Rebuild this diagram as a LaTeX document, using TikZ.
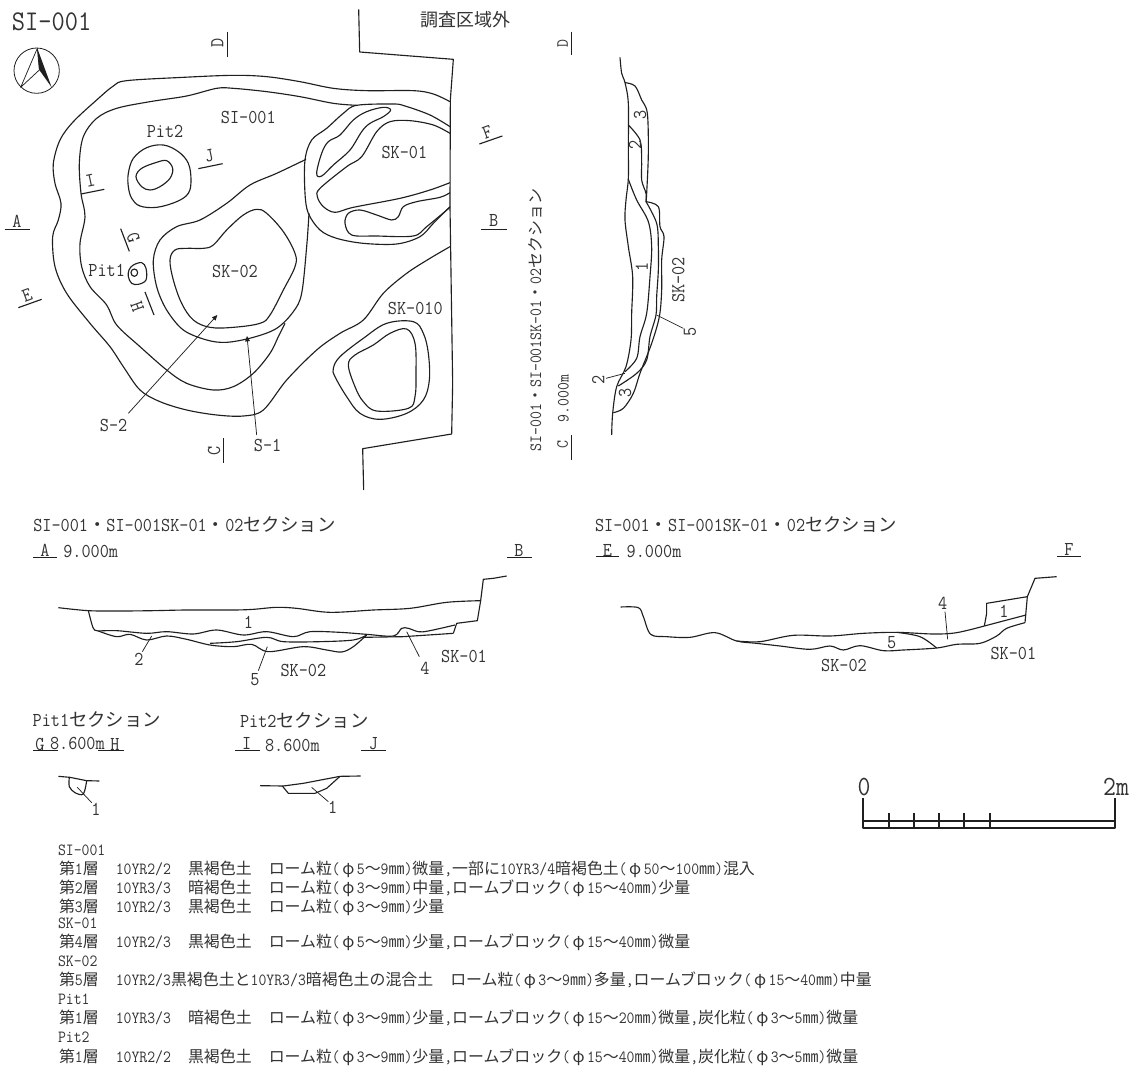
\documentclass[tikz,border=0pt]{standalone}
\usepackage{fontspec}
\setmonofont{Latin Modern Mono}[Scale=1.07,FakeStretch=0.9]
\newfontfamily\cjk{Noto Sans CJK JP}
\newcommand{\J}[1]{{\cjk #1}}
\newcommand{\PH}{\makebox[1em][c]{\cjk φ}}
\newcommand{\FW}{\hspace*{1em}}
\newcommand{\txtsize}[1]{\fontsize{#1}{#1}\selectfont}
\usetikzlibrary{arrows.meta}
\definecolor{ink}{gray}{0.12}
\definecolor{txt}{gray}{0.2}
\tikzset{
 px/.style={x=0.75pt,y=-0.75pt},
 zm/.style={x=0.25pt,y=-0.25pt},
 ln/.style={draw=ink,line width=0.85pt,line join=round},
 thin line/.style={draw=ink,line width=0.55pt,line join=round},
 lbl/.style={inner sep=0pt,outer sep=0pt,text=txt,font=\ttfamily\txtsize{13.8}},
 lbls/.style={inner sep=0pt,outer sep=0pt,text=txt,font=\ttfamily\txtsize{12}},
 lblb/.style={inner sep=0pt,outer sep=0pt,text=txt,font=\ttfamily\txtsize{19.5}},
 lg/.style={inner sep=0pt,outer sep=0pt,anchor=west,text=txt,font=\ttfamily\txtsize{11.94}},
 leadtip/.style={-{Triangle[length=4pt,width=3.5pt]},thin line},
}
\newcommand{\crv}[2][]{\draw[ln,#1] plot[smooth,tension=0.55] coordinates {#2};}
\newcommand{\crvc}[2][]{\draw[ln,#1] plot[smooth cycle,tension=0.6] coordinates {#2};}
\begin{document}
\begin{tikzpicture}[px]
\useasboundingbox (0,0) rectangle (1132,1066);
\fill[white] (0,0) rectangle (1132,1066);

% ---- plan ----
\node[lbl,font=\ttfamily\txtsize{20},anchor=west] (title) at (12,22) {SI-001};
\node[lbl,font=\cjk\txtsize{13.5}] (outside) at (465,20) {調査区域外};

\begin{scope}[zm]
 % north arrow
 \node[circle,draw=ink,line width=0.6pt,minimum size=34pt,inner sep=0pt] (north) at (110,212) {};
 \draw[thin line] (112,145) -- (62,262) -- (118,210) -- cycle;
 \fill[ink] (112,145) -- (155,262) -- (118,210) -- cycle;
 % survey limit
 \draw[ln] (1076,28) -- (1079,156) -- (1360,178) -- (1351,300) -- (1350,620) -- (1358,1150) -- (1355,1302) -- (1088,1346) -- (1091,1470);
 % SI-001 outer
 \crv{(1350,305)(1300,282)(1240,272)(1100,272)(1000,265)(900,245)(800,230)(700,226)(550,232)(380,242)(340,258)(290,300)(220,365)(180,420)(160,490)(165,550)(183,610)(175,660)(158,710)(165,800)(200,880)(270,970)(330,1040)(370,1100)(420,1170)(480,1205)(560,1230)(650,1245)(730,1248)(790,1230)(860,1140)(950,1050)(1020,1000)(1090,960)(1150,880)(1220,820)(1290,775)(1350,740)}
 % SI-001 floor
 \crv{(1070,316)(1000,310)(900,290)(800,275)(700,265)(650,265)(560,288)(450,305)(350,325)(290,355)(250,410)(238,490)(243,580)(255,650)(240,730)(245,800)(270,860)(320,915)(350,975)(420,1040)(500,1110)(560,1150)(640,1170)(700,1160)(760,1120)(810,1060)(835,1010)(855,970)}
 % SK-01
 \crv{(1350,380)(1290,345)(1215,318)(1180,312)(1070,316)(1030,340)(980,385)(935,420)(915,480)(915,580)(925,640)(960,690)(1010,715)(1090,730)(1190,732)(1260,710)(1300,670)(1350,620)}
 \crvc{(950,520)(965,460)(985,425)(1020,405)(1060,360)(1100,335)(1150,322)(1172,330)(1150,350)(1110,370)(1085,395)(1050,450)(1000,495)(965,528)}
 \crv{(1350,400)(1300,375)(1230,362)(1170,365)(1130,395)(1085,470)(1040,500)(960,565)(952,590)(970,620)(1005,637)(1060,622)(1200,595)(1290,570)(1350,548)}
 \crv{(1350,578)(1320,592)(1250,605)(1210,620)(1195,650)(1175,660)(1130,645)(1080,630)(1045,640)(1035,670)(1055,705)(1130,708)(1240,708)(1280,680)(1350,622)}
 % SK-02
 \crv{(918,478)(830,520)(750,555)(680,610)(600,660)(530,680)(480,720)(460,780)(470,860)(500,930)(550,990)(620,1020)(680,1027)(760,1012)(830,985)(880,935)(905,880)(920,740)(927,640)}
 \crvc{(510,780)(525,750)(560,745)(610,745)(640,735)(680,690)(730,645)(770,628)(800,640)(850,695)(885,760)(885,800)(850,870)(810,945)(780,970)(700,982)(630,982)(580,960)(545,910)(520,840)}
 % Pit2
 \crvc{(385,520)(400,475)(440,443)(490,435)(535,455)(565,490)(573,540)(565,580)(530,605)(470,622)(420,618)(395,595)(385,560)}
 \crvc{(408,530)(425,505)(470,487)(500,482)(518,505)(510,535)(480,560)(450,570)(425,560)}
 % Pit1
 \crvc{(387,810)(400,795)(425,788)(438,805)(438,840)(415,853)(395,850)(385,830)}
 \draw[ln] (403,818) ellipse [x radius=10,y radius=11];
 % SK-010
 \crvc{(1000,1105)(1020,1070)(1090,1015)(1160,970)(1240,965)(1270,1000)(1285,1060)(1288,1140)(1270,1200)(1220,1240)(1140,1258)(1080,1240)(1040,1190)(1005,1130)}
 \crvc{(1045,1095)(1065,1065)(1120,1035)(1170,1000)(1220,987)(1245,1030)(1248,1120)(1245,1190)(1225,1225)(1130,1233)(1090,1205)(1065,1160)}
 % section marks
 \draw[ln] (682,95) -- (682,170);
 \draw[ln] (671,1315) -- (671,1390);
 \draw[ln] (14,688) -- (90,688);
 \draw[ln] (1444,688) -- (1520,688);
 \draw[ln] (55,923) -- (125,898);
 \draw[ln] (1438,432) -- (1507,408);
 \draw[ln] (243,582) -- (313,568);
 \draw[ln] (595,506) -- (668,491);
 \draw[ln] (362,686) -- (388,754);
 \draw[ln] (435,876) -- (462,945);
 % plan labels
 \node[lbl,rotate=90] (mD) at (652,130) {D};
 \node[lbl,rotate=90] (mC) at (642,1352) {C};
 \node[lbl] (mA) at (51,663) {A};
 \node[lbl] (mB) at (1481,662) {B};
 \node[lbl,rotate=20] (mE) at (81,887) {E};
 \node[lbl,rotate=20] (mF) at (1462,396) {F};
 \node[lbl,rotate=12] (mI) at (271,543) {I};
 \node[lbl,rotate=12] (mJ) at (627,466) {J};
 \node[lbl,rotate=-70] (mG) at (400,714) {G};
 \node[lbl,rotate=-70] (mH) at (412,921) {H};
 \node[lbl] (nSI) at (745,353) {SI-001};
 \node[lbl] (nPit2) at (495,395) {Pit2};
 \node[lbl] (nPit1) at (320,810) {Pit1};
 \node[lbl] (nSK1) at (1213,458) {SK-01};
 \node[lbl] (nSK2) at (705,815) {SK-02};
 \node[lbl] (nSK10) at (1246,925) {SK-010};
 \node[lbl] (nS2) at (341,1277) {S-2};
 \node[lbl] (nS1) at (803,1337) {S-1};
 \coordinate (s2tip) at (652,945);
 \coordinate (s1tip) at (741,1008);
 \coordinate (s2foot) at (385,1240);
 \coordinate (s1foot) at (770,1305);
 \draw[leadtip] (s2foot) -- (s2tip);
 \draw[leadtip] (s1foot) -- (s1tip);
\end{scope}

% ---- section C-D ----
\begin{scope}[shift={(520,20)},zm]
 \crv{(300,112)(305,160)(315,188)(325,250)(325,380)(325,475)(318,540)(315,600)(325,680)(338,770)(335,880)(333,960)(318,1040)(290,1100)(278,1180)(275,1245)}
 \crv{(315,188)(345,198)(365,240)(382,280)(385,400)(380,520)(378,545)}
 \crv{(378,545)(415,560)(420,620)(432,650)(425,720)(425,810)(418,890)(395,970)(360,1060)(340,1120)(310,1165)(280,1178)}
 \crv{(325,315)(360,360)(365,420)(365,480)(378,520)(378,545)}
 \crv{(325,478)(350,540)(385,605)(395,680)(390,770)(380,880)(360,950)(350,1015)(315,1055)}
 \crv{(378,545)(410,610)(415,680)(415,750)(410,830)(408,885)(390,950)(380,1020)(350,1060)(295,1098)}
 \draw[ln] (155,35) -- (155,105);
 \draw[ln] (155,1245) -- (155,1320);
 \node[lbls,rotate=90] (cdT) at (45,900) {SI-001\J{・}SI-001SK-01\J{・}02\J{セクション}};
 \node[lbls,rotate=90] (cdD) at (128,70) {D};
 \node[lbls,rotate=90] (cdC) at (128,1275) {C};
 \node[lbls,rotate=90] (cdH) at (130,1135) {9.000m};
 \node[lbl,rotate=90] (cdSK) at (475,780) {SK-02};
 \node[lbl,rotate=90] (cd5) at (510,935) {5};
 \node[lbl,rotate=90] (cd2b) at (235,1080) {2};
 \node[lbl,rotate=90] (cd3b) at (315,1118) {3};
 \node[lbl,rotate=90] (cd1) at (365,740) {1};
 \node[lbl,rotate=90] (cd2a) at (345,375) {2};
 \node[lbl,rotate=90] (cd3a) at (360,285) {3};
 \coordinate (cd5t) at (410,885);
 \coordinate (cd2t) at (315,1060);
 \coordinate (cd5f) at (490,925);
 \coordinate (cd2f) at (258,1075);
 \draw[thin line] (cd5f) -- (cd5t);
 \draw[thin line] (cd2f) -- (cd2t);
\end{scope}

% ---- section A-B ----
\begin{scope}[shift={(20,500)},zm]
 \crv{(115,323)(205,332)(300,333)(400,332)(500,330)(640,330)(700,328)(770,322)(830,325)(930,337)(1060,330)(1170,325)(1280,307)(1382,302)}
 \draw[ln] (1460,228) -- (1420,235) -- (1390,238) -- (1382,302) -- (1372,362) -- (1310,370) -- (1300,400);
 \crv{(205,332)(220,385)(235,393)(290,410)(330,403)(380,420)(440,408)(500,418)(570,435)(640,440)(695,433)(745,455)(850,440)(920,450)(965,456)(1000,440)(1040,405)}
 \crv{(235,393)(290,392)(380,400)(440,395)(520,402)(590,390)(670,405)(740,395)(820,410)(870,395)(960,397)(1040,403)(1120,408)(1145,385)(1165,385)(1195,395)(1225,393)(1305,375)}
 \draw[ln] (1300,400) -- (1150,410) -- (1030,412);
 \crv{(570,430)(650,425)(740,412)(790,425)(900,425)(1000,420)(1040,405)}
 \draw[ln] (40,172) -- (112,172);
 \draw[ln] (1462,172) -- (1537,172);
 \node[lbl,anchor=west] (abT) at (40,75) {SI-001\J{・}SI-001SK-01\J{・}02\J{セクション}};
 \node[lbl] (abA) at (75,150) {A};
 \node[lbl] (abB) at (1497,150) {B};
 \node[lbl,anchor=west] (abH) at (130,155) {9.000m};
 \node[lbl] (ab1) at (685,368) {1};
 \node[lbl] (ab2) at (357,478) {2};
 \node[lbl] (ab5) at (705,540) {5};
 \node[lbl] (ab4) at (1215,505) {4};
 \node[lbl] (abS2) at (850,512) {SK-02};
 \node[lbl] (abS1) at (1332,470) {SK-01};
 \coordinate (ab2t) at (395,408);
 \coordinate (ab5t) at (742,440);
 \coordinate (ab4t) at (1160,395);
 \coordinate (ab2f) at (367,455);
 \coordinate (ab5f) at (715,512);
 \coordinate (ab4f) at (1198,470);
 \draw[thin line] (ab2f) -- (ab2t);
 \draw[thin line] (ab5f) -- (ab5t);
 \draw[thin line] (ab4f) -- (ab4t);
\end{scope}

% ---- section E-F ----
\begin{scope}[shift={(580,500)},zm]
 \crv{(122,321)(175,323)(190,350)(212,403)(260,410)(330,412)(405,398)(470,423)(530,430)(600,438)(690,448)(750,438)(790,450)(840,437)(910,452)(970,450)(1070,444)(1130,433)(1200,430)(1250,408)(1280,385)(1335,368)}
 \draw[ln] (1335,368) -- (1342,290) -- (1365,235) -- (1430,230);
 \crv{(470,423)(540,425)(640,406)(750,408)(850,400)(950,397)(1060,402)(1130,398)(1213,378)}
 \draw[ln] (1213,378) -- (1338,345);
 \draw[ln] (1213,378) -- (1220,340) -- (1220,310) -- (1342,290);
 \crv{(950,397)(1020,410)(1070,444)}
 \draw[ln] (48,170) -- (118,170);
 \draw[ln] (1432,170) -- (1503,170);
 \node[lbl,anchor=west] (efT) at (45,75) {SI-001\J{・}SI-001SK-01\J{・}02\J{セクション}};
 \node[lbl] (efE) at (82,150) {E};
 \node[lbl] (efF) at (1467,147) {F};
 \node[lbl,anchor=west] (efH) at (140,155) {9.000m};
 \node[lbl] (ef4) at (1088,310) {4};
 \node[lbl] (ef5) at (935,428) {5};
 \node[lbl] (ef1) at (1272,333) {1};
 \node[lbl] (efS2) at (792,497) {SK-02};
 \node[lbl] (efS1) at (1300,460) {SK-01};
 \coordinate (ef4t) at (1103,418);
 \coordinate (ef4f) at (1095,335);
 \draw[thin line] (ef4f) -- (ef4t);
\end{scope}

% ---- pit sections ----
\begin{scope}[shift={(20,700)},zm]
 \draw[ln] (115,229) -- (150,232) -- (200,242) -- (238,243);
 \crv{(148,232)(148,260)(165,278)(190,282)(200,242)}
 \draw[ln] (720,257) -- (790,258) -- (850,250) -- (960,229) -- (1022,228);
 \draw[ln] (787,258) -- (805,280) -- (885,280) -- (920,265) -- (960,229);
 \draw[ln] (40,152) -- (115,152);
 \draw[ln] (235,152) -- (312,152);
 \draw[ln] (645,152) -- (720,152);
 \draw[ln] (1023,152) -- (1097,152);
 \node[lbl,anchor=west] (p1T) at (38,60) {Pit1\J{セクション}};
 \node[lbl,anchor=west] (p2T) at (660,63) {Pit2\J{セクション}};
 \node[lbl] (p1G) at (60,133) {G};
 \node[lbl] (p1H) at (285,133) {H};
 \node[lbl,anchor=west] (p1L) at (90,130) {8.600m};
 \node[lbl] (p2I) at (680,130) {I};
 \node[lbl] (p2J) at (1060,130) {J};
 \node[lbl,anchor=west] (p2L) at (735,135) {8.600m};
 \node[lbl] (p11) at (228,328) {1};
 \node[lbl] (p21) at (938,323) {1};
 \coordinate (p1t) at (172,262);
 \coordinate (p2t) at (875,262);
 \coordinate (p1f) at (215,308);
 \coordinate (p2f) at (925,305);
 \draw[thin line] (p1f) -- (p1t);
 \draw[thin line] (p2f) -- (p2t);
\end{scope}

% ---- scale ----
\draw[ln] (863,798) -- (863,828) -- (1115,828) -- (1115,798);
\draw[ln] (863,821) -- (1115,821);
\foreach \tx in {889,914,939,964,990} \draw[ln] (\tx,813) -- (\tx,828);
\node[lblb] (s0) at (864,787) {0};
\node[lblb] (s2m) at (1116,787) {2m};

% ---- legend ----
\node[lg] (l1) at (58,850) {SI-001};
\node[lg] (l2) at (59,869) {\J{第}1\J{層}\FW 10YR2/2\FW\J{黒褐色土}\FW\J{ローム粒}(\PH 5\J{～}9\J{㎜})\J{微量},\J{一部に}10YR3/4\J{暗褐色土}(\PH 50\J{～}100\J{㎜})\J{混入}};
\node[lg] (l3) at (59,888) {\J{第}2\J{層}\FW 10YR3/3\FW\J{暗褐色土}\FW\J{ローム粒}(\PH 3\J{～}9\J{㎜})\J{中量},\J{ロームブロック}(\PH 15\J{～}40\J{㎜})\J{少量}};
\node[lg] (l4) at (59,907) {\J{第}3\J{層}\FW 10YR2/3\FW\J{黒褐色土}\FW\J{ローム粒}(\PH 3\J{～}9\J{㎜})\J{少量}};
\node[lg] (l5) at (58,923) {SK-01};
\node[lg] (l6) at (59,942) {\J{第}4\J{層}\FW 10YR2/3\FW\J{黒褐色土}\FW\J{ローム粒}(\PH 5\J{～}9\J{㎜})\J{少量},\J{ロームブロック}(\PH 15\J{～}40\J{㎜})\J{微量}};
\node[lg] (l7) at (58,961) {SK-02};
\node[lg] (l8) at (59,980) {\J{第}5\J{層}\FW 10YR2/3\J{黒褐色土と}10YR3/3\J{暗褐色土の混合土}\FW\J{ローム粒}(\PH 3\J{～}9\J{㎜})\J{多量},\J{ロームブロック}(\PH 15\J{～}40\J{㎜})\J{中量}};
\node[lg] (l9) at (58,999) {Pit1};
\node[lg] (l10) at (59,1018) {\J{第}1\J{層}\FW 10YR3/3\FW\J{暗褐色土}\FW\J{ローム粒}(\PH 3\J{～}9\J{㎜})\J{少量},\J{ロームブロック}(\PH 15\J{～}20\J{㎜})\J{微量},\J{炭化粒}(\PH 3\J{～}5\J{㎜})\J{微量}};
\node[lg] (l11) at (58,1037) {Pit2};
\node[lg] (l12) at (59,1057) {\J{第}1\J{層}\FW 10YR2/2\FW\J{黒褐色土}\FW\J{ローム粒}(\PH 3\J{～}9\J{㎜})\J{少量},\J{ロームブロック}(\PH 15\J{～}40\J{㎜})\J{微量},\J{炭化粒}(\PH 3\J{～}5\J{㎜})\J{微量}};
\end{tikzpicture}
\end{document}
